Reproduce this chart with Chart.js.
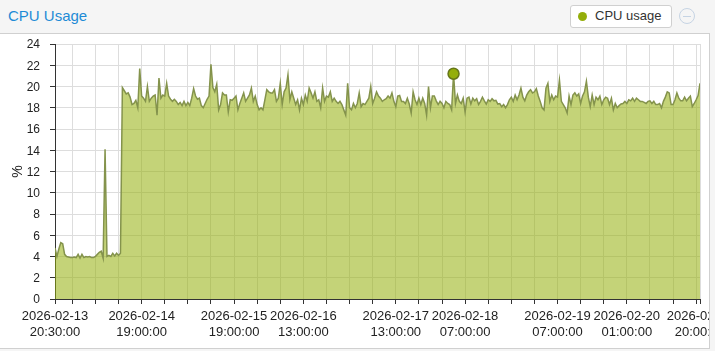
<!DOCTYPE html>
<html>
<head>
<meta charset="utf-8">
<script src="https://cdn.jsdelivr.net/npm/chart.js@4"></script>
<style>
  html, body { margin: 0; padding: 0; width: 715px; height: 351px; overflow: hidden; background: #f5f5f5; font-family: 'Liberation Sans', Arial, Helvetica, sans-serif; }
  #title { position: absolute; left: 8px; top: 8px; font-size: 15px; line-height: 15px; color: #1e8bd6; white-space: nowrap; }
  #legend { position: absolute; left: 570px; top: 5px; width: 100px; height: 21px; border: 1px solid #d0d0d0; border-radius: 3px; background: #fff; }
  #legend .dot { position: absolute; left: 7px; top: 6px; width: 9px; height: 9px; border-radius: 50%; background: #94ae0a; }
  #legend .txt { position: absolute; left: 24px; top: 3px; font-size: 13px; line-height: 13px; color: #333; white-space: nowrap; }
  #collapse { position: absolute; left: 679px; top: 8px; width: 14px; height: 14px; border: 1px solid #c6d4e4; border-radius: 50%; }
  #collapse::after { content: ''; position: absolute; left: 3px; top: 7px; width: 8px; height: 1px; background: #c6d4e4; }
  #box { position: absolute; left: -1px; top: 33px; width: 709px; height: 314px; border: 1px solid #d0d0d0; background: #fff; overflow: hidden; }
  canvas { display: block; }
</style>
</head>
<body>
<div id="title">CPU Usage</div>
<div id="legend"><div class="dot"></div><div class="txt">CPU usage</div></div>
<div id="collapse"></div>
<div id="box"><canvas id="cpuChart" width="709" height="314"></canvas></div>
<script>
// samples every 30 minutes, first one at 2026-02-13 20:30:00
var startTime = '2026-02-13T20:30:00Z';
var stepMinutes = 30;

var cpuUsage = [
  4.8, 4.0, 4.7, 5.3, 5.2, 4.2, 4.0, 3.95, 3.9, 3.9,
  3.95, 3.9, 4.2, 3.85, 4.2, 3.9, 4.0, 3.95, 4.0, 3.9,
  3.9, 4.0, 4.2, 4.4, 4.5, 3.85, 14.1, 4.0, 4.1, 4.0,
  4.3, 4.05, 4.3, 4.1, 4.3, 19.9,
  19.6, 19.3, 19.4, 19.0, 18.3, 18.4, 18.7, 18.0, 21.7, 19.1,
  18.9, 18.6, 20.0, 18.6, 18.9, 19.1, 19.2, 17.3, 20.8, 18.9,
  19.2, 19.1, 20.3, 19.1, 18.8, 18.6, 18.8, 18.6, 18.3, 18.5,
  18.2, 18.6, 18.2, 18.5, 18.2, 18.9, 19.8, 19.1, 18.8, 18.9,
  18.2, 18.0, 18.4, 18.8, 19.1, 22.1, 19.9, 19.5, 20.2, 17.8,
  18.3, 19.4, 19.2, 19.2, 17.6, 18.75, 18.7, 18.9, 19.1, 17.8,
  18.4, 18.9, 19.4, 18.6, 18.9, 19.2, 19.85, 18.6, 19.1, 18.3,
  17.8, 18.0, 17.8, 18.75, 19.7, 19.5, 19.4, 19.4, 19.7, 18.6,
  18.9, 20.3, 18.3, 19.5, 19.85, 21.1, 18.75, 19.5, 18.9, 18.3,
  18.75, 17.8, 18.9, 18.3, 19.2, 18.6, 19.85, 19.4, 18.9, 19.5,
  18.6, 18.75, 18.0, 19.85, 18.6, 19.1, 19.0, 19.5, 18.6, 18.9,
  18.6, 18.4, 18.6, 18.3, 17.8, 17.3, 20.3, 18.0, 17.8, 18.4,
  18.0, 18.4, 19.4, 18.1, 18.4, 18.3, 18.6, 18.9, 20.0, 18.4,
  18.9, 19.5, 19.1, 18.9,
  18.6, 18.75, 18.85, 19.1, 18.9, 19.4, 18.6, 18.1, 19.1, 19.15,
  18.6, 18.6, 18.4, 18.9, 18.35, 17.5, 19.5, 18.75, 18.3, 18.9,
  18.3, 18.9, 18.4, 17.3, 20.0, 18.0, 19.1, 19.1, 18.65, 18.3,
  18.6, 18.4, 18.0, 18.6, 18.4, 18.3, 17.8, 21.2, 18.4, 19.2,
  18.6, 18.4, 18.9, 17.6, 18.9, 19.0, 18.35, 18.9, 18.65, 18.85,
  18.3, 18.6, 19.0, 18.65, 18.35, 18.75, 18.6, 18.85, 18.65, 18.7,
  18.35, 18.4, 18.1, 18.3, 18.0, 18.3, 18.75, 19.0, 18.6, 19.2,
  18.75, 19.2, 19.85, 19.0, 18.65, 19.2, 19.5, 19.7, 19.4, 19.5,
  19.8, 19.1,
  18.6, 18.0, 17.8, 19.85, 20.3, 18.6, 19.2, 18.75,
  19.1, 19.0, 20.6, 18.6, 18.3, 18.0, 17.5, 19.1, 18.3, 19.2,
  19.4, 19.1, 19.3, 18.4, 19.1, 19.5, 20.5, 19.0, 18.1, 19.2,
  18.3, 19.0, 18.75, 19.1, 18.3, 18.75, 19.0, 18.9, 18.3, 18.9,
  17.8, 18.4, 18.0, 18.2, 18.35, 18.4, 18.6, 18.4, 18.75, 18.65,
  18.9, 18.6, 18.9, 18.75, 18.6, 18.6, 18.5, 18.4, 18.6, 18.65,
  18.4, 18.6, 18.3, 18.3, 18.4, 18.0, 18.6, 19.0, 19.5, 19.4,
  18.3, 18.3, 18.75, 19.4, 18.9, 18.65, 18.65, 19.0, 18.65, 18.9,
  19.1, 18.1, 18.4, 18.75, 19.15, 20.3
];

// hovered sample shown with a marker
var markIndex = 207;

// axis ticks every 6 hours (plus both ends), only these get a label
var firstGridTick = '2026-02-14T01:00:00Z';
var tickStepHours = 6;
var labeledTicks = [
  '2026-02-13 20:30:00', '2026-02-14 19:00:00', '2026-02-15 19:00:00',
  '2026-02-16 13:00:00', '2026-02-17 13:00:00', '2026-02-18 07:00:00',
  '2026-02-19 07:00:00', '2026-02-20 01:00:00', '2026-02-20 20:00:00'
];

var t0 = Date.parse(startTime);
var step = stepMinutes * 60000;
var tEnd = t0 + (cpuUsage.length - 1) * step;

var points = cpuUsage.map(function (v, i) { return { x: t0 + i * step, y: v }; });

var tickTimes = [t0];
for (var t = Date.parse(firstGridTick); t < tEnd; t += tickStepHours * 3600000) tickTimes.push(t);
tickTimes.push(tEnd);

function fmt(v) {
  var s = new Date(v).toISOString();
  return s.slice(0, 10) + ' ' + s.slice(11, 19);
}

var ctx = document.getElementById('cpuChart').getContext('2d');
var myChart = new Chart(ctx, {
  type: 'line',
  data: {
    datasets: [{
      label: 'CPU usage',
      data: points,
      borderColor: '#84934c',
      borderWidth: 1.5,
      backgroundColor: 'rgba(148, 174, 10, 0.55)',
      fill: 'origin',
      tension: 0,
      pointRadius: function (c) { return c.dataIndex === markIndex ? 5.5 : 0; },
      pointBackgroundColor: '#94ae0a',
      pointBorderColor: '#66761a',
      pointBorderWidth: 1.5
    }]
  },
  options: {
    responsive: false,
    animation: false,
    events: [],
    layout: { padding: { left: 0, right: 9, top: 10, bottom: 0 } },
    plugins: { legend: { display: false }, tooltip: { enabled: false } },
    scales: {
      x: {
        type: 'linear',
        min: t0,
        max: tEnd,
        afterBuildTicks: function (s) { s.ticks = tickTimes.map(function (v) { return { value: v }; }); },
        afterFit: function (s) { s.height = 49; s.paddingLeft = 0; s.paddingRight = 0; },
        ticks: {
          autoSkip: false, maxRotation: 0, minRotation: 0, padding: 5,
          color: '#222', font: { family: "'Liberation Sans', Arial, sans-serif", size: 13 },
          callback: function (v) {
            var s = fmt(v);
            return labeledTicks.indexOf(s) >= 0 ? s.split(' ') : '';
          }
        },
        grid: { color: '#dddddd', tickColor: '#333', tickLength: 5 },
        border: { color: '#333' }
      },
      y: {
        min: 0,
        max: 24,
        afterFit: function (s) { s.width = 55; s.paddingTop = 0; s.paddingBottom = 0; },
        ticks: {
          stepSize: 2, padding: 10, labelOffset: 1,
          color: '#222', font: { family: "'Liberation Sans', Arial, sans-serif", size: 12 }
        },
        title: {
          display: true, text: '%', color: '#222',
          font: { family: "'Liberation Sans', Arial, sans-serif", size: 14 },
          padding: { top: 10, bottom: 0 }
        },
        grid: { color: '#dddddd', tickColor: '#333', tickLength: 5 },
        border: { color: '#333' }
      }
    }
  }
});
</script>
</body>
</html>
